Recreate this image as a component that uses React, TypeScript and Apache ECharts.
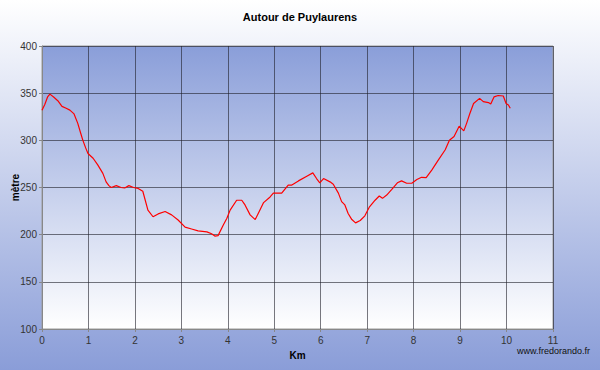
import React, { useEffect, useRef } from "react";
import * as echarts from "echarts";

const title = "Autour de Puylaurens";
const xName = "Km";
const yName = "mètre";
const credit = "www.fredorando.fr";

const km: number[] = [
  0, 0.06, 0.12, 0.17, 0.25, 0.34, 0.43, 0.52, 0.6, 0.69, 0.77, 0.83, 0.88, 0.94, 0.99,
  1.1, 1.2, 1.31, 1.38, 1.44, 1.49, 1.6, 1.7, 1.78, 1.87, 1.97, 2.07, 2.17, 2.28, 2.39,
  2.5, 2.65, 2.79, 2.93, 3.08, 3.22, 3.36, 3.55, 3.65, 3.72, 3.79, 3.9, 3.98, 4.05,
  4.19, 4.3, 4.37, 4.48, 4.59, 4.66, 4.77, 4.91, 4.98, 5.16, 5.3, 5.37, 5.52, 5.7,
  5.83, 5.91, 5.98, 6.06, 6.2, 6.27, 6.38, 6.45, 6.52, 6.59, 6.67, 6.75, 6.85, 6.95,
  7.05, 7.17, 7.26, 7.33, 7.42, 7.53, 7.65, 7.74, 7.85, 7.96, 8.07, 8.17, 8.27, 8.39,
  8.53, 8.68, 8.77, 8.87, 8.98, 9.08, 9.14, 9.21, 9.29, 9.42, 9.5, 9.61, 9.66, 9.73,
  9.82, 9.93, 9.99, 10.04, 10.08,
];

const altitude: number[] = [
  332, 338, 346, 349, 346, 342, 336, 334, 332, 328, 318, 308, 300, 292, 286,
  281, 274, 265, 256, 252, 250, 252, 250, 249.5, 252, 250, 249, 246, 226, 219,
  222, 224.5, 221, 215.5, 208, 206, 204, 203, 201, 198.5, 199, 210, 217.5, 226,
  236.5, 236.5, 231.5, 221, 216, 223, 234, 240, 244, 244, 252.5, 252.5, 257, 262,
  265.5, 259.5, 255, 259.5, 256, 253.5, 244, 235, 231.5, 222.5, 216, 212.5, 215, 220,
  229.5, 236.5, 241, 238.5, 242, 248, 255, 257, 254.5, 254.5, 258.5, 260.8, 260.4, 268.5,
  279, 290, 300, 304, 315, 310, 318, 328.5, 339, 344.5, 341, 340, 338.5, 346,
  347.5, 347, 339, 337.5, 334,
];

const xMin = 0;
const xMax = 11;
const xStep = 1;
const yMin = 100;
const yMax = 400;
const yStep = 50;

export default function App() {
  const ref = useRef<HTMLDivElement>(null);
  useEffect(() => {
    if (!ref.current) return;
    const chart = echarts.init(ref.current, null, { renderer: "svg" });
    const data = km.map((k, i) => [k, altitude[i]]);
    const font = "Liberation Sans, Arial, sans-serif";
    chart.setOption({
      animation: false,
      backgroundColor: new echarts.graphic.LinearGradient(0, 0, 0, 1, [
        { offset: 0, color: "#ffffff" },
        { offset: 1, color: "#8a9dd8" },
      ]),
      title: {
        text: title,
        left: "center",
        top: 6,
        textStyle: { fontFamily: font, fontSize: 11, fontWeight: "bold", color: "#000" },
      },
      grid: {
        left: 42,
        top: 46,
        right: 47,
        bottom: 41,
        containLabel: false,
        outerBoundsMode: "none",
        show: true,
        borderColor: "#9a9a9a",
        borderWidth: 1,
        backgroundColor: new echarts.graphic.LinearGradient(0, 0, 0, 1, [
          { offset: 0, color: "#8a9ed9" },
          { offset: 1, color: "#ffffff" },
        ]),
      },
      xAxis: {
        type: "value",
        min: xMin,
        max: xMax,
        interval: xStep,
        name: xName,
        nameLocation: "middle",
        nameGap: 21,
        nameMoveOverlap: false,
        nameTextStyle: { fontFamily: font, fontSize: 10, fontWeight: "bold", color: "#000" },
        axisLine: { show: true, onZero: false, lineStyle: { color: "#888" } },
        axisTick: { show: true, length: 3, lineStyle: { color: "#888" } },
        axisLabel: { fontFamily: font, fontSize: 10, color: "#333", margin: 6 },
        splitLine: { show: true, lineStyle: { color: "rgba(30,30,40,0.6)", width: 1 } },
      },
      yAxis: {
        type: "value",
        min: yMin,
        max: yMax,
        interval: yStep,
        name: yName,
        nameLocation: "middle",
        nameGap: 22,
        nameMoveOverlap: false,
        nameTextStyle: { fontFamily: font, fontSize: 10, fontWeight: "bold", color: "#000" },
        axisLine: { show: true, lineStyle: { color: "#888" } },
        axisTick: { show: true, length: 3, lineStyle: { color: "#888" } },
        axisLabel: { fontFamily: font, fontSize: 10, color: "#333", margin: 5 },
        splitLine: { show: true, lineStyle: { color: "rgba(30,30,40,0.6)", width: 1 } },
      },
      graphic: [
        {
          type: "text",
          right: 10,
          top: 346,
          style: { text: credit, fontFamily: font, fontSize: 9, fill: "#111" },
        },
      ],
      series: [
        {
          type: "line",
          data,
          showSymbol: false,
          symbol: "none",
          lineStyle: { color: "#ff0000", width: 1.2 },
        },
      ],
    });
    return () => chart.dispose();
  }, []);
  return (
    <div
      ref={ref}
      style={{ position: "fixed", left: 0, top: 0, width: 600, height: 370 }}
    />
  );
}
